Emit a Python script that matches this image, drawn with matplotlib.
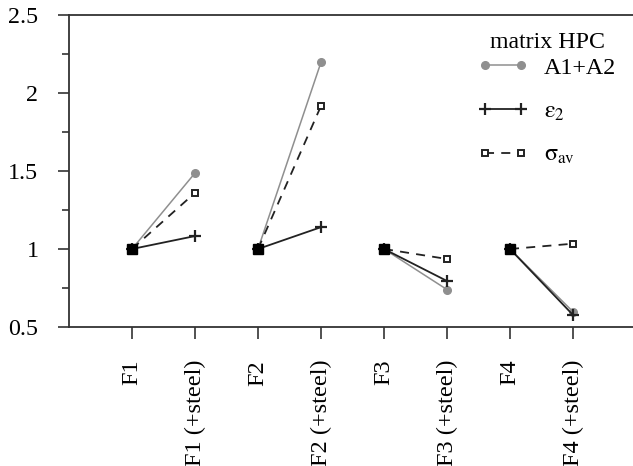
import numpy as np
import matplotlib
matplotlib.use("Agg")
import matplotlib.pyplot as plt

plt.rcParams["font.family"] = ["Liberation Serif", "DejaVu Serif"]
plt.rcParams["mathtext.fontset"] = "stix"

categories = ["F1", "F1 (+steel)", "F2", "F2 (+steel)",
              "F3", "F3 (+steel)", "F4", "F4 (+steel)"]
a1_a2 = [1.0, 1.487, 1.0, 2.197, 1.0, 0.74, 1.0, 0.598]
eps2 = [1.0, 1.083, 1.0, 1.14, 1.0, 0.795, 1.0, 0.577]
sigma_av = [1.0, 1.36, 1.0, 1.917, 1.0, 0.936, 1.0, 1.034]
y_ticks = [0.5, 1.0, 1.5, 2.0, 2.5]
y_tick_labels = ["0.5", "1", "1.5", "2", "2.5"]

fig = plt.figure(figsize=(6.33, 4.66), dpi=100)
ax = fig.add_axes([69 / 633, 1 - 327 / 466, (633 - 69) / 633, 312 / 466])

x = np.arange(1, len(categories) + 1)
dark = "#222222"
grey = "#8f8f8f"

for i in range(0, len(categories), 2):
    xs = x[i:i + 2]
    ax.plot(xs, a1_a2[i:i + 2], color=grey, lw=1.1, marker="o", ms=5.5,
            mfc=grey, mec=grey, zorder=3,
            label="A1+A2" if i == 0 else None)
    ax.plot(xs, eps2[i:i + 2], color=dark, lw=1.3, marker="+", ms=8,
            mew=1.6, zorder=4,
            label=r"$\mathrm{\varepsilon}_2$" if i == 0 else None)
    ax.plot(xs, sigma_av[i:i + 2], color=dark, lw=1.3, ls=(0, (5, 4)),
            marker="s", ms=5, mfc="white", mec=dark, mew=1.4, zorder=5,
            label=r"$\mathrm{\sigma}_{\mathrm{av}}$" if i == 0 else None)
    # reference point of each pair drawn as a solid square
    ax.plot(xs[0], sigma_av[i], ls="none", marker="s", ms=7.5,
            color="black", zorder=6)

ax.set_xlim(0, (633 - 69) / 63)
ax.set_ylim(0.5, 2.5)
ax.set_xticks(x)
ax.set_xticklabels(categories, rotation=90, fontsize=17.5)
ax.set_yticks(y_ticks)
ax.set_yticklabels(y_tick_labels, fontsize=17.3)
ax.set_yticks(np.arange(0.75, 2.5, 0.5), minor=True)

for s in ["left", "bottom", "top"]:
    ax.spines[s].set_color("#333333")
    ax.spines[s].set_linewidth(1.3)
ax.spines["right"].set_visible(False)

ax.tick_params(axis="y", which="major", direction="out", length=8,
               width=1.2, color="#333333", pad=14)
ax.tick_params(axis="y", which="minor", direction="out", length=5,
               width=1.2, color="#333333")
ax.tick_params(axis="x", direction="out", length=8.6, width=1.2,
               color="#333333", pad=15)

leg = ax.legend(loc="upper left", bbox_to_anchor=(478 / 633, 1 - 57 / 466),
                bbox_transform=fig.transFigure, frameon=False,
                fontsize=17.3, numpoints=2, handlelength=2.1,
                labelspacing=0.9, handletextpad=0.65, borderpad=0.0,
                borderaxespad=0.0)
fig.text(547 / 633, 1 - 42 / 466, "matrix HPC", fontsize=17.2,
         ha="center", va="center")

fig.savefig("out.png", dpi=100)
